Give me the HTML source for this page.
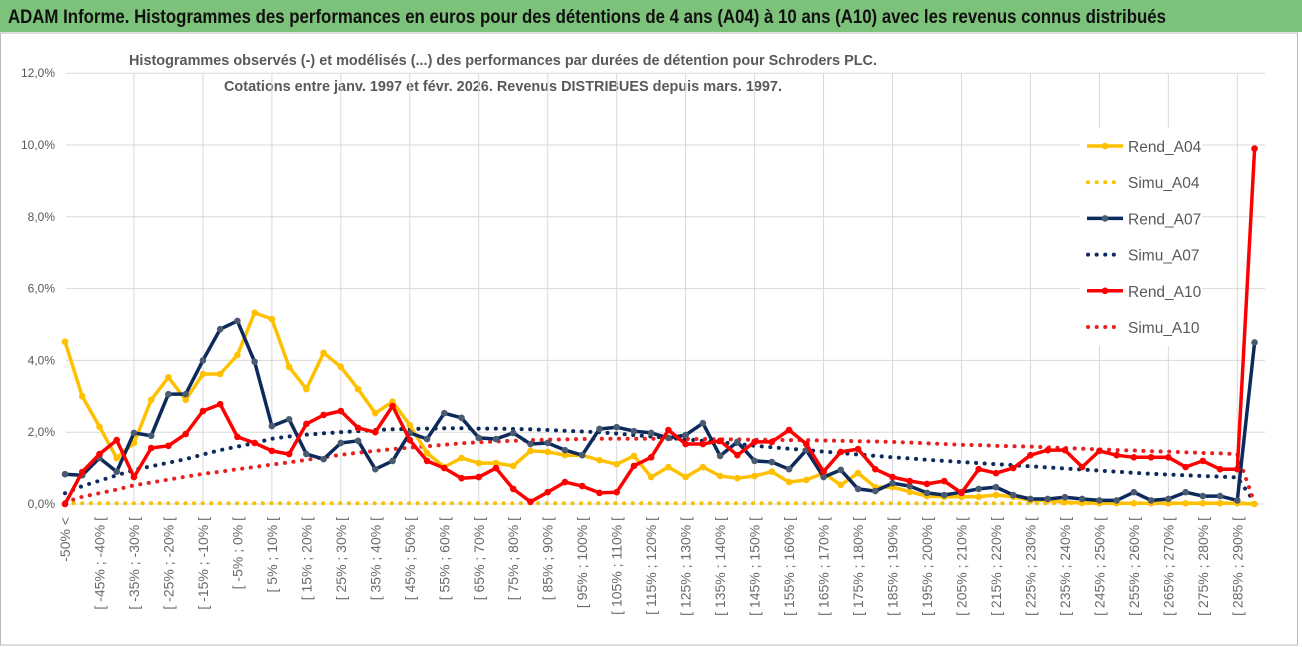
<!DOCTYPE html>
<html><head><meta charset="utf-8"><style>
html,body{margin:0;padding:0;background:#fff;}
svg{display:block;font-family:"Liberation Sans Narrow","Liberation Sans",sans-serif;}
</style></head><body>
<svg id="chart" width="1302" height="647" viewBox="0 0 1302 647" xmlns="http://www.w3.org/2000/svg">
<rect x="0" y="0" width="1302" height="647" fill="#fff"/>
<rect x="0" y="0" width="1302" height="32" fill="#7cc27a"/>
<text x="8" y="23" font-size="19" font-weight="bold" fill="#111" textLength="1158" lengthAdjust="spacingAndGlyphs">ADAM Informe. Histogrammes des performances en euros pour des détentions de 4 ans (A04) à 10 ans (A10) avec les revenus connus distribués</text>
<rect x="0.5" y="33" width="1297" height="612" fill="none" stroke="#bbb"/>
<text x="503" y="65" font-size="15" font-weight="bold" fill="#595959" text-anchor="middle" textLength="748" lengthAdjust="spacingAndGlyphs">Histogrammes observés (-) et modélisés (...) des performances par durées de détention pour Schroders PLC.</text>
<text x="503" y="91" font-size="15" font-weight="bold" fill="#595959" text-anchor="middle" textLength="558" lengthAdjust="spacingAndGlyphs">Cotations entre janv. 1997 et févr. 2026. Revenus DISTRIBUES depuis mars. 1997.</text>
<g id="grid"></g><g id="yaxis"></g><g id="xaxis"></g><g id="series"></g><g id="legend"></g>
</svg>
<script>
const rendA04=[4.52,3.0,2.15,1.28,1.7,2.9,3.53,2.9,3.62,3.62,4.15,5.33,5.15,3.82,3.2,4.21,3.82,3.2,2.53,2.85,2.2,1.42,1.03,1.28,1.14,1.14,1.06,1.48,1.45,1.36,1.36,1.22,1.11,1.34,0.75,1.03,0.75,1.03,0.78,0.72,0.78,0.9,0.61,0.67,0.86,0.53,0.86,0.47,0.47,0.34,0.22,0.2,0.2,0.2,0.25,0.2,0.1,0.1,0.05,0.03,0.02,0.02,0.02,0.02,0.02,0.02,0.02,0.02,0.02,0];
const rendA07=[0.83,0.8,1.28,0.9,1.98,1.9,3.06,3.06,4.0,4.87,5.1,3.96,2.17,2.36,1.39,1.25,1.7,1.76,0.97,1.2,1.98,1.81,2.53,2.4,1.84,1.81,1.98,1.67,1.7,1.5,1.36,2.09,2.14,2.03,1.98,1.84,1.92,2.25,1.34,1.73,1.2,1.17,0.97,1.5,0.75,0.95,0.42,0.36,0.58,0.5,0.31,0.25,0.33,0.42,0.47,0.25,0.14,0.14,0.19,0.14,0.1,0.1,0.33,0.1,0.14,0.33,0.22,0.22,0.1,4.5];
const rendA10=[0,0.89,1.39,1.78,0.75,1.56,1.62,1.95,2.59,2.78,1.87,1.7,1.48,1.39,2.23,2.48,2.59,2.12,2.0,2.73,1.78,1.2,1.0,0.72,0.75,1.0,0.42,0.06,0.33,0.61,0.5,0.31,0.33,1.06,1.3,2.06,1.67,1.67,1.76,1.36,1.73,1.73,2.06,1.67,0.9,1.45,1.53,0.97,0.75,0.64,0.56,0.64,0.31,0.97,0.86,1.0,1.36,1.5,1.5,1.03,1.48,1.36,1.3,1.3,1.3,1.03,1.2,0.97,0.97,9.9];
const simuA04=[0.02,0.02,0.02,0.02,0.02,0.02,0.02,0.02,0.02,0.02,0.02,0.02,0.02,0.02,0.02,0.02,0.02,0.02,0.02,0.02,0.02,0.02,0.02,0.02,0.02,0.02,0.02,0.02,0.02,0.02,0.02,0.02,0.02,0.02,0.02,0.02,0.02,0.02,0.02,0.02,0.02,0.02,0.02,0.02,0.02,0.02,0.02,0.02,0.02,0.02,0.02,0.02,0.02,0.02,0.02,0.02,0.02,0.02,0.02,0.02,0.02,0.02,0.02,0.02,0.02,0.02,0.02,0.02,0.02,0.01];
const simuA07=[0.3,0.5,0.65,0.8,0.95,1.05,1.15,1.25,1.38,1.5,1.6,1.7,1.82,1.88,1.93,1.97,2.0,2.03,2.06,2.08,2.09,2.1,2.11,2.11,2.1,2.1,2.09,2.08,2.06,2.04,2.02,2.0,1.96,1.92,1.88,1.84,1.8,1.76,1.72,1.67,1.62,1.58,1.54,1.5,1.46,1.42,1.38,1.34,1.3,1.27,1.23,1.2,1.17,1.14,1.11,1.08,1.05,1.02,0.99,0.96,0.93,0.9,0.87,0.84,0.82,0.8,0.78,0.76,0.74,0.05];
const simuA10=[0.05,0.2,0.3,0.4,0.52,0.6,0.68,0.76,0.84,0.9,0.97,1.03,1.1,1.16,1.23,1.3,1.37,1.43,1.48,1.53,1.57,1.61,1.65,1.69,1.72,1.74,1.76,1.78,1.79,1.8,1.81,1.82,1.82,1.82,1.82,1.82,1.81,1.81,1.8,1.8,1.79,1.79,1.78,1.78,1.77,1.76,1.75,1.74,1.73,1.71,1.69,1.67,1.65,1.64,1.62,1.61,1.6,1.58,1.56,1.54,1.52,1.5,1.49,1.47,1.46,1.44,1.42,1.41,1.39,0.03];
const yTicks=[0,2,4,6,8,10,12];
const yTickLabels=["0,0%","2,0%","4,0%","6,0%","8,0%","10,0%","12,0%"];
const NS="http://www.w3.org/2000/svg";
const N=rendA04.length;
const X0=65,DX=17.24,Y0=504,YPX=35.9;
function xs(i){return X0+i*DX;}
function ys(v){return Y0-v*YPX;}
function mk(tag,attrs,parent){const e=document.createElementNS(NS,tag);for(const k in attrs)e.setAttribute(k,attrs[k]);parent.appendChild(e);return e;}
const grid=document.getElementById('grid'),yaxis=document.getElementById('yaxis'),xaxis=document.getElementById('xaxis'),ser=document.getElementById('series'),leg=document.getElementById('legend');
yTicks.forEach((t,k)=>{
  const l=mk('line',{x1:66,x2:1265,y1:ys(t),y2:ys(t),stroke:'#d9d9d9','stroke-width':1},grid);
  
  
  const tx=mk('text',{x:55,y:ys(t)+4,'font-size':12,fill:'#595959','text-anchor':'end'},yaxis);
  tx.textContent=yTickLabels[k];
  
  
});
for(let i=4;i<N;i+=4){
  const l=mk('line',{x1:xs(i),x2:xs(i),y1:ys(12),y2:Y0,stroke:'#d9d9d9','stroke-width':1},grid);
  
  
}
function catLabel(i){if(i===0)return "-50% <";const lo=-55+5*i;return "[ "+lo+"% ; "+(lo+5)+"% ["}
for(let i=0;i<N-1;i+=2){
  const tx=mk('text',{x:0,y:0,'font-size':14,fill:'#6a6a6a','text-anchor':'end',transform:`translate(${xs(i)+5},517) rotate(-90)`},xaxis);
  tx.textContent=catLabel(i);
  
  
}
function pts(a){return a.map((v,i)=>xs(i).toFixed(1)+','+ys(v).toFixed(1)).join(' ');}
function dotted(a,color,name){
  const p=mk('polyline',{points:pts(a),fill:'none',stroke:color,'stroke-width':4,'stroke-dasharray':'0.1 8.5','stroke-linecap':'round'},ser);
  
  
}
function solid(a,color,mcol,name){
  const g=mk('g',{},ser);
  
  
  mk('polyline',{points:pts(a),fill:'none',stroke:color,'stroke-width':3.5,'stroke-linejoin':'round'},g);
  a.forEach((v,i)=>{const c=mk('circle',{cx:xs(i),cy:ys(v),r:3.3,fill:mcol},g);
    
    });
}
dotted(simuA04,'#f5c000','simu-a04-line');
dotted(simuA07,'#0c2a5c','simu-a07-line');
dotted(simuA10,'#e82020','simu-a10-line');
solid(rendA04,'#ffc000','#ffc000','rend-a04-line');
solid(rendA07,'#0c2a5c','#4a5a70','rend-a07-line');
solid(rendA10,'#ff0000','#ff0000','rend-a10-line');
const lbg=mk('rect',{x:1080,y:128,width:122,height:218,fill:'#fff'},leg);


const legItems=[["Rend_A04",'#ffc000','#ffc000',false],["Simu_A04",'#ffc000','',true],["Rend_A07",'#0c2a5c','#4a5a70',false],["Simu_A07",'#0c2a5c','',true],["Rend_A10",'#ff0000','#ff0000',false],["Simu_A10",'#e82020','',true]];
legItems.forEach((it,k)=>{
  const y=146+k*36.2;
  const g=mk('g',{},leg);
  
  
  if(it[3]){mk('line',{x1:1088,x2:1120,y1:y,y2:y,stroke:it[1],'stroke-width':4,'stroke-dasharray':'0.1 8.5','stroke-linecap':'round'},g);}
  else{mk('line',{x1:1087,x2:1123,y1:y,y2:y,stroke:it[1],'stroke-width':3.5},g);mk('circle',{cx:1105,cy:y,r:3.3,fill:it[2]},g);}
  const t=mk('text',{x:1128,y:y+6,'font-size':15.5,fill:'#595959'},g);t.textContent=it[0];
});
</script>
</body></html>
